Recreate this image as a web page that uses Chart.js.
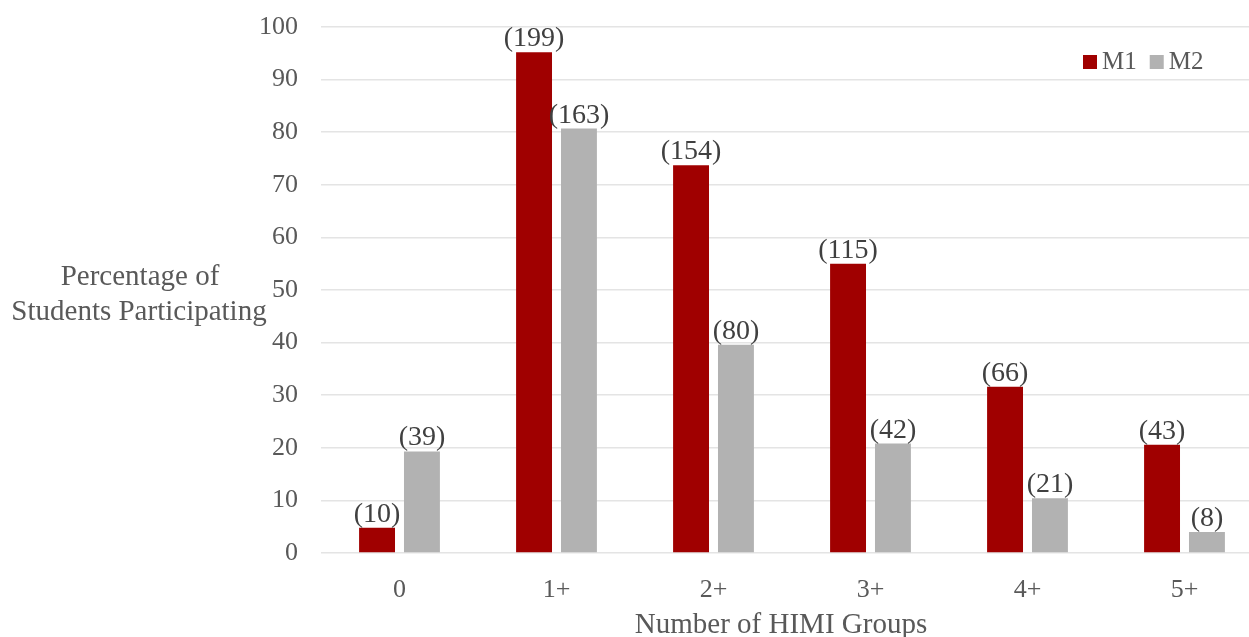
<!DOCTYPE html>
<html>
<head>
<meta charset="utf-8">
<script src="https://cdn.jsdelivr.net/npm/chart.js@4.4.1/dist/chart.umd.min.js"></script>
<style>
  html, body { margin: 0; padding: 0; background: #fff; overflow: hidden; }
  #wrap { position: relative; width: 1263px; height: 637px; }
</style>
</head>
<body>
<div id="wrap"><canvas id="himiChart"></canvas></div>
<script>
// categories and values
const groups = ['0', '1+', '2+', '3+', '4+', '5+'];
const m1Pct = [4.8, 95.2, 73.7, 55.0, 31.6, 20.6];
const m2Pct = [19.3, 80.7, 39.6, 20.8, 10.4, 4.0];
const m1Counts = [10, 199, 154, 115, 66, 43];
const m2Counts = [39, 163, 80, 42, 21, 8];
const yTicks = [0, 10, 20, 30, 40, 50, 60, 70, 80, 90, 100];

const SERIF = '"Liberation Serif", "Times New Roman", serif';
const TEXT = '#595959';

// "(n)" labels above each bar
const countLabels = {
  id: 'countLabels',
  afterDatasetsDraw(chart) {
    const ctx = chart.ctx;
    ctx.save();
    ctx.font = '28px ' + SERIF;
    ctx.fillStyle = '#404040';
    ctx.textAlign = 'center';
    ctx.textBaseline = 'alphabetic';
    chart.data.datasets.forEach((ds, i) => {
      chart.getDatasetMeta(i).data.forEach((bar, j) => {
        ctx.fillText('(' + ds.counts[j] + ')', bar.x, bar.y - 6);
      });
    });
    ctx.restore();
  }
};

// horizontal y title, x title and the legend in the plot corner
const extras = {
  id: 'extras',
  afterDraw(chart) {
    const ctx = chart.ctx;
    ctx.save();
    ctx.fillStyle = TEXT;
    ctx.font = '29px ' + SERIF;
    ctx.textAlign = 'center';
    ctx.textBaseline = 'middle';
    ctx.fillText('Percentage of', 140, 277);
    ctx.fillText('Students Participating', 139, 312);
    ctx.textBaseline = 'alphabetic';
    ctx.fillText('Number of HIMI Groups', 781, 633);

    ctx.font = '25px ' + SERIF;
    ctx.textAlign = 'left';
    ctx.textBaseline = 'middle';
    let x = 1083;
    chart.data.datasets.forEach(ds => {
      ctx.fillStyle = ds.backgroundColor;
      ctx.fillRect(x, 55, 14, 14);
      ctx.fillStyle = TEXT;
      ctx.fillText(ds.label, x + 19, 62);
      x += 19 + ctx.measureText(ds.label).width + 13;
    });
    ctx.restore();
  }
};

new Chart(document.getElementById('himiChart'), {
  type: 'bar',
  data: {
    labels: groups,
    datasets: [
      { label: 'M1', data: m1Pct, counts: m1Counts, backgroundColor: '#A00000' },
      { label: 'M2', data: m2Pct, counts: m2Counts, backgroundColor: '#B2B2B2' }
    ]
  },
  options: {
    responsive: true,
    maintainAspectRatio: false,
    animation: false,
    layout: { padding: { top: 27, right: 0, left: 0, bottom: 0 } },
    categoryPercentage: 0.572,
    barPercentage: 0.8,
    plugins: {
      legend: { display: false },
      tooltip: { enabled: false }
    },
    scales: {
      x: {
        grid: { display: false },
        border: { display: false },
        ticks: { color: TEXT, font: { family: SERIF, size: 26 }, padding: 14 },
        afterFit(s) { s.height = 84; s.paddingLeft = 0; s.paddingRight = 0; }
      },
      y: {
        min: 0,
        max: 100,
        afterBuildTicks(s) { s.ticks = yTicks.map(v => ({ value: v })); },
        grid: { color: '#E4E4E4', lineWidth: 1.5, drawTicks: false },
        border: { display: false },
        ticks: { color: TEXT, font: { family: SERIF, size: 26 }, padding: 23 },
        afterFit(s) { s.width = 321; s.paddingTop = 0; s.paddingBottom = 0; }
      }
    }
  },
  plugins: [countLabels, extras]
});
</script>
</body>
</html>
